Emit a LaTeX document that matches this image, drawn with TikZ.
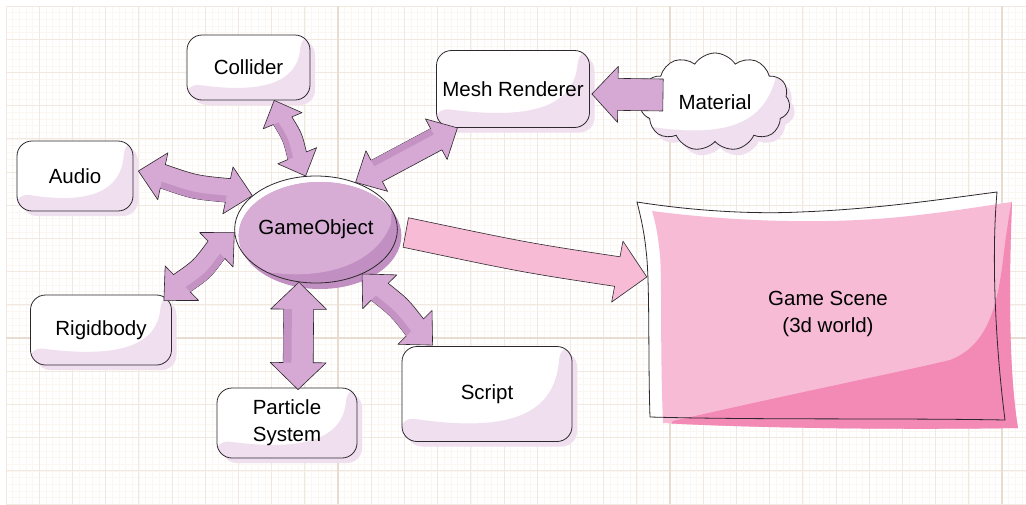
\documentclass[tikz,border=0pt]{standalone}
\usepackage{fontspec}
\setmainfont{Liberation Sans}
\usetikzlibrary{calc,shapes.geometric,shapes.symbols}
\pgfdeclarelayer{grid}
\pgfdeclarelayer{paint}
\pgfsetlayers{grid,paint,main}

\definecolor{gridfine}{RGB}{250,246,242}
\definecolor{gridminor}{RGB}{241,232,223}
\definecolor{gridmajor}{RGB}{232,220,208}
\definecolor{tint}{RGB}{239,223,239}
\definecolor{arrowfill}{RGB}{213,169,211}
\definecolor{arrowdark}{RGB}{196,147,196}
\definecolor{gofill}{RGB}{215,172,213}
\definecolor{godark}{RGB}{193,143,193}
\definecolor{pinklight}{RGB}{247,187,214}
\definecolor{pinkdark}{RGB}{243,137,181}
\definecolor{inkline}{RGB}{45,40,45}

\newcommand\labfont{\fontsize{20.5}{27}\selectfont}

% outline of the scene sheet and of its pink paint
\newcommand\sheetoutline{(637,202) .. controls (700,212) and (760,214) .. (800,212)
      .. controls (880,209) and (950,198) .. (997,192)
      .. controls (991,260) and (996,350) .. (1005,420)
      .. controls (900,418) and (760,420) .. (650,417)
      .. controls (648,360) and (650,280) .. (646,250)
      .. controls (644,230) and (640,214) .. (637,202) -- cycle}
\newcommand\sheetpaint{(652,211) .. controls (760,225) and (850,222) .. (900,217)
      .. controls (950,212) and (990,205) .. (1012,202)
      .. controls (1008,300) and (1010,380) .. (1018,428)
      .. controls (900,430) and (750,428) .. (663,423)
      .. controls (660,350) and (662,280) .. (660,255)
      .. controls (658,235) and (655,220) .. (652,211) -- cycle}

% double-headed block arrow: style, start, end, bow, head length, head half width, shaft half width
\newcommand\twoway[7]{%
  \path[#1] (#2)
    -- ($(#2)!#5!(#3)!#6!90:(#3)$)
    -- ($(#2)!#5!(#3)!#7!90:(#3)$)
    .. controls ($(#2)!0.5!(#3)!#4+#7!90:(#3)$) .. ($(#3)!#5!(#2)!#7!-90:(#2)$)
    -- ($(#3)!#5!(#2)!#6!-90:(#2)$)
    -- (#3)
    -- ($(#3)!#5!(#2)!#6!90:(#2)$)
    -- ($(#3)!#5!(#2)!#7!90:(#2)$)
    .. controls ($(#2)!0.5!(#3)!#4-#7!90:(#3)$) .. ($(#2)!#5!(#3)!#7!-90:(#3)$)
    -- ($(#2)!#5!(#3)!#6!-90:(#3)$)
    -- cycle;
  % darker band along one side of the shaft
  \fill[arrowdark] ($(#2)!#5!(#3)!#7!-90:(#3)$)
    .. controls ($(#2)!0.5!(#3)!#4-#7!90:(#3)$) .. ($(#3)!#5!(#2)!#7!90:(#2)$)
    -- ($(#3)!#5!(#2)!0.45*#7!90:(#2)$)
    .. controls ($(#2)!0.5!(#3)!#4-0.45*#7!90:(#3)$) .. ($(#2)!#5!(#3)!0.45*#7!-90:(#3)$)
    -- cycle;}
% single-headed block arrow: style, tail, tip, bow, head length, head half width, shaft half width
\newcommand\oneway[7]{%
  \path[#1] ($(#2)!#7!90:(#3)$)
    .. controls ($(#2)!0.5!(#3)!#4+#7!90:(#3)$) .. ($(#3)!#5!(#2)!#7!-90:(#2)$)
    -- ($(#3)!#5!(#2)!#6!-90:(#2)$)
    -- (#3)
    -- ($(#3)!#5!(#2)!#6!90:(#2)$)
    -- ($(#3)!#5!(#2)!#7!90:(#2)$)
    .. controls ($(#2)!0.5!(#3)!#4-#7!90:(#3)$) .. ($(#2)!#7!-90:(#3)$)
    -- cycle;}

\tikzset{
  finegrid/.style={draw=gridfine, line width=0.4pt},
  minorgrid/.style={draw=gridminor, line width=0.8pt},
  majorgrid/.style={draw=gridmajor, line width=1.2pt},
  crescent/.style={path picture={
    \fill[#1] let \p1=(path picture bounding box.south west),
                  \p2=(path picture bounding box.north east),
                  \n1={\x2-\x1}, \n2={\y2-\y1} in
      ({\x1-2pt},{\y1+0.26*\n2})
      .. controls ({\x1+0.6*\n1},{\y1+0.1*\n2}) and ({\x1+0.9*\n1},{\y1+0.25*\n2})
      .. ({\x1+0.93*\n1},{\y2+2pt})
      -- ({\x2+2pt},{\y2+2pt}) -- ({\x2+2pt},{\y1-2pt}) -- ({\x1-2pt},{\y1-2pt}) -- cycle;}},
  card/.style={rectangle, rounded corners=15pt, draw=inkline, line width=0.8pt,
    preaction={fill=tint, transform canvas={shift={(5pt,-5pt)}}},
    fill=white, crescent=tint, font=\labfont, align=center, inner sep=2pt},
  cloudbox/.style={cloud, cloud puffs=11, cloud puff arc=115, aspect=1.55,
    draw=inkline, line width=0.8pt,
    preaction={fill=tint, transform canvas={shift={(5pt,-6pt)}}},
    fill=white, crescent=tint, font=\labfont, inner sep=0pt},
  goshape/.style={ellipse, draw=inkline, line width=0.8pt, inner sep=0pt, font=\labfont,
    preaction={fill=white},
    preaction={fill=godark, transform canvas={shift={(4pt,-6pt)}}},
    path picture={
      \begin{scope}
        \clip let \p1=(path picture bounding box.south west),
                  \p2=(path picture bounding box.north east) in
          ({(\x1+\x2)/2+4pt},{(\y1+\y2)/2-6pt})
          ellipse [x radius={(\x2-\x1)/2}, y radius={(\y2-\y1)/2}];
        \fill[gofill] let \p1=(path picture bounding box.south west),
                  \p2=(path picture bounding box.north east),
                  \n1={\x2-\x1}, \n2={\y2-\y1} in
          ({\x1-5pt},{\y1+0.18*\n2})
          .. controls ({\x1+0.45*\n1},{\y1-0.04*\n2}) and ({\x1+0.85*\n1},{\y1+0.12*\n2})
          .. ({\x1+0.96*\n1},{\y1+0.55*\n2})
          -- ({\x1+0.98*\n1},{\y2+5pt}) -- ({\x1-5pt},{\y2+5pt}) -- cycle;
      \end{scope}}},
  fatarrow/.style={fill=arrowfill, draw=inkline, line width=0.6pt, line join=round},
  pinkarrow/.style={fill=pinklight, draw=inkline, line width=0.6pt, line join=round},
  scenetext/.style={font=\labfont, align=center, minimum width=360pt, minimum height=220pt},
}

\begin{document}
\begin{tikzpicture}[x=1pt, y=-1pt]
\useasboundingbox (0,0) rectangle (1026,504);

% squared paper
\begin{pgfonlayer}{grid}
  \fill[white] (0,0) rectangle (1026,504);
  \foreach \i in {1,...,153} \draw[finegrid] ({6+6.64*\i},6) -- ({6+6.64*\i},504);
  \foreach \i in {1,...,75}  \draw[finegrid] (6,{6+6.64*\i}) -- (1026,{6+6.64*\i});
  \foreach \i in {0,...,30}  \draw[minorgrid] ({6+33.2*\i},6) -- ({6+33.2*\i},504);
  \foreach \i in {0,...,15}  \draw[minorgrid] (6,{6+33.2*\i}) -- (1026,{6+33.2*\i});
  \foreach \i in {1,2,3}     \draw[majorgrid] ({6+332*\i},6) -- ({6+332*\i},504);
  \draw[majorgrid] (6,338) -- (1026,338);
\end{pgfonlayer}

% the game scene sheet
\begin{pgfonlayer}{paint}
  \fill[white] \sheetoutline;
  \begin{scope}
    \fill[pinklight] \sheetpaint;
    \clip \sheetpaint;
    \fill[pinkdark] (673,421) .. controls (800,392) and (900,372) .. (950,360)
      .. controls (990,345) and (998,300) .. (1003,260)
      .. controls (1006,235) and (1009,215) .. (1012,200)
      -- (1030,198) -- (1030,440) -- (660,440) -- cycle;
  \end{scope}
  \draw[inkline, line width=0.8pt, line join=round] \sheetoutline;
\end{pgfonlayer}

% components
\node[card, minimum width=123pt, minimum height=65pt] (collider) at (248.5,67.5) {Collider};
\node[card, minimum width=153pt, minimum height=77pt] (mesh) at (513,89) {Mesh Renderer};
\node[card, minimum width=116pt, minimum height=70pt] (audio) at (75,176) {Audio};
\node[card, minimum width=141pt, minimum height=70pt] (rigid) at (101,330) {Rigidbody};
\node[card, minimum width=140pt, minimum height=70pt] (particle) at (287,423) {Particle\\System};
\node[card, minimum width=170pt, minimum height=95pt] (script) at (487,394) {Script};
\node[cloudbox, minimum width=150pt, minimum height=98pt] (material) at (715,102) {Material};
\node[goshape, minimum width=162pt, minimum height=107pt] (go) at (316,229.5) {GameObject};
\node[scenetext] (scene) at (828,314) {Game Scene\\(3d world)};

% arrow ends
\coordinate (audioend) at ($(audio.east)+(5,-5)$);
\coordinate (rigidend) at ($(rigid.north east)+(-8,6)$);
\coordinate (particleend) at ($(particle.north)+(11,2)$);
\coordinate (scriptend) at ($(script.north west)+(31,-1)$);
\coordinate (materialtail) at ($(material.center)+(-52,-7)$);
\coordinate (meshtip) at ($(mesh.east)+(2,5)$);
\coordinate (gotail) at ($(go.east)+(8,3)$);
\coordinate (scenetip) at ($(scene.west)+(-1,-37)$);

% links
\twoway{fatarrow}{collider.-52}{go.101}{3pt}{22pt}{21pt}{10pt}
\twoway{fatarrow}{mesh.-145}{go.50}{0pt}{24pt}{23pt}{12pt}
\twoway{fatarrow}{audioend}{go.152}{-4pt}{25pt}{24pt}{12pt}
\twoway{fatarrow}{rigidend}{go.182}{-4pt}{25pt}{24pt}{12pt}
\twoway{fatarrow}{go.-108}{particleend}{0pt}{27pt}{28pt}{15pt}
\twoway{fatarrow}{go.-44}{scriptend}{3pt}{25pt}{24pt}{12pt}
\oneway{fatarrow}{materialtail}{meshtip}{0pt}{26pt}{28pt}{16pt}
\oneway{pinkarrow}{gotail}{scenetip}{-3pt}{30pt}{31pt}{15pt}

\end{tikzpicture}
\end{document}
